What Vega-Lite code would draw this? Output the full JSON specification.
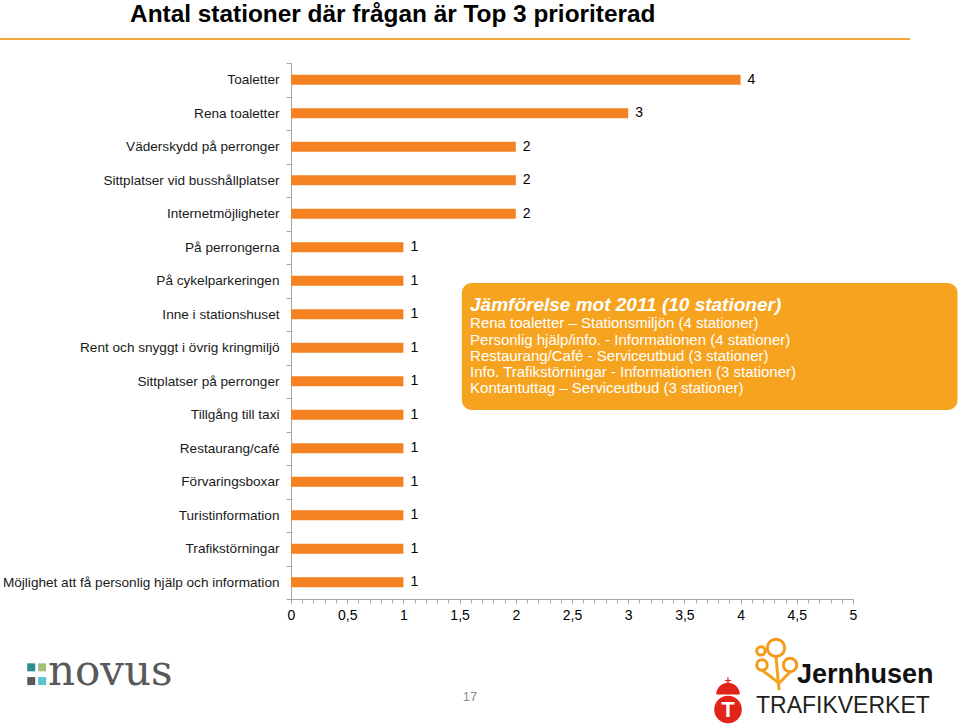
{
  "$schema": "https://vega.github.io/schema/vega-lite/v6.json",
  "width": 562,
  "height": 536,
  "autosize": {"type": "none"},
  "padding": {"left": 291, "top": 63, "right": 107, "bottom": 125},
  "background": "#ffffff",
  "config": {"view": {"stroke": null}, "font": "Liberation Sans"},
  "datasets": {
    "bars": [
      {"cat": "Toaletter", "v": 4},
      {"cat": "Rena toaletter", "v": 3},
      {"cat": "Väderskydd på perronger", "v": 2},
      {"cat": "Sittplatser vid busshållplatser", "v": 2},
      {"cat": "Internetmöjligheter", "v": 2},
      {"cat": "På perrongerna", "v": 1},
      {"cat": "På cykelparkeringen", "v": 1},
      {"cat": "Inne i stationshuset", "v": 1},
      {"cat": "Rent och snyggt i övrig kringmiljö", "v": 1},
      {"cat": "Sittplatser på perronger", "v": 1},
      {"cat": "Tillgång till taxi", "v": 1},
      {"cat": "Restaurang/café", "v": 1},
      {"cat": "Förvaringsboxar", "v": 1},
      {"cat": "Turistinformation", "v": 1},
      {"cat": "Trafikstörningar", "v": 1},
      {"cat": "Möjlighet att få personlig hjälp och information", "v": 1}
    ],
    "box": [{"x": 1.52, "x2": 5.93, "r": 6.57, "r2": 10.36}],
    "head": [{"x": 1.593, "r": 7.22, "t": "Jämförelse mot 2011 (10 stationer)"}],
    "body": [
      {"x": 1.593, "r": 7.76, "t": "Rena toaletter – Stationsmiljön (4 stationer)"},
      {"x": 1.593, "r": 8.26, "t": "Personlig hjälp/info. - Informationen (4 stationer)"},
      {"x": 1.593, "r": 8.74, "t": "Restaurang/Café - Serviceutbud (3 stationer)"},
      {"x": 1.593, "r": 9.22, "t": "Info. Trafikstörningar - Informationen (3 stationer)"},
      {"x": 1.593, "r": 9.69, "t": "Kontantuttag – Serviceutbud (3  stationer)"}
    ],
    "title": [{"x": -1.432, "r": -1.43, "t": "Antal stationer där frågan är Top 3 prioriterad"}],
    "line": [{"x": -2.589, "x2": 5.507, "r": -0.716}],
    "novusSq": [
      {"x": -2.311, "r": 18.04, "c": "#2B8C91"},
      {"x": -2.214, "r": 18.04, "c": "#A3BE77"},
      {"x": -2.311, "r": 18.45, "c": "#58595B"},
      {"x": -2.214, "r": 18.45, "c": "#5BC2CF"}
    ],
    "novus": [{"x": -2.162, "r": 18.57, "t": "novus"}],
    "page": [{"x": 1.593, "r": 18.93, "t": "17"}],
    "jhText": [{"x": 4.502, "r": 18.51, "t": "Jernhusen"}],
    "jhRings": [
      {"x": 4.315, "r": 17.46, "s": 300},
      {"x": 4.181, "r": 17.55, "s": 70},
      {"x": 4.19, "r": 17.97, "s": 110},
      {"x": 4.44, "r": 17.97, "s": 180}
    ],
    "jhStems": [
      {"x": 4.315, "x2": 4.342, "r": 17.73, "r2": 18.72},
      {"x": 4.19, "x2": 4.342, "r": 18.12, "r2": 18.51},
      {"x": 4.44, "x2": 4.342, "r": 18.18, "r2": 18.51}
    ],
    "tvText": [{"x": 4.137, "r": 19.4, "t": "TRAFIKVERKET"}],
    "tvShield": [{"x": 3.888, "r": 19.3}],
    "tvDome": [{"x": 3.888, "r": 18.85}],
    "tvT": [{"x": 3.888, "r": 19.32, "t": "T"}],
    "tvCross": [{"x": 3.888, "r": 18.45, "t": "+"}]
  },
  "layer": [
    {
      "data": {"name": "line"},
      "mark": {"type": "rule", "color": "#F2A93B", "strokeWidth": 2, "clip": false},
      "encoding": {
        "x": {"field": "x", "type": "quantitative", "scale": {"domain": [0, 5], "nice": false}, "axis": null},
        "x2": {"field": "x2"},
        "y": {"field": "r", "type": "quantitative", "scale": {"domain": [0, 16], "reverse": true, "nice": false, "zero": false}, "axis": null}
      }
    },
    {
      "data": {"name": "title"},
      "mark": {"type": "text", "align": "left", "baseline": "middle", "fontSize": 24.4, "fontWeight": "bold", "color": "#000000", "clip": false},
      "encoding": {
        "x": {"field": "x", "type": "quantitative", "scale": {"domain": [0, 5], "nice": false}, "axis": null},
        "y": {"field": "r", "type": "quantitative", "scale": {"domain": [0, 16], "reverse": true, "nice": false, "zero": false}, "axis": null},
        "text": {"field": "t"}
      }
    },
    {
      "data": {"name": "bars"},
      "mark": {"type": "bar", "size": 10, "color": "#F58220"},
      "encoding": {
        "y": {
          "field": "cat", "type": "nominal", "sort": null,
          "scale": {"paddingInner": 0, "paddingOuter": 0},
          "axis": {"title": null, "labelFontSize": 13.6, "labelColor": "#1a1a1a", "labelLimit": 400, "labelPadding": 7, "tickBand": "extent", "tickSize": 5, "tickColor": "#A6A6A6", "domainColor": "#A6A6A6", "grid": false}
        },
        "x": {
          "field": "v", "type": "quantitative",
          "scale": {"domain": [0, 5], "nice": false},
          "axis": {"title": null, "orient": "bottom", "values": [0, 0.5, 1, 1.5, 2, 2.5, 3, 3.5, 4, 4.5, 5], "labelExpr": "replace(format(datum.value, '~g'), '.', ',')", "labelFontSize": 14, "labelColor": "#000000", "tickSize": 5, "tickColor": "#A6A6A6", "domainColor": "#A6A6A6", "grid": false, "labelPadding": 4, "labelFlush": false, "labelOverlap": false}
        }
      }
    },
    {
      "data": {"name": "bars"},
      "mark": {"type": "text", "align": "left", "baseline": "middle", "dx": 7, "fontSize": 14, "color": "#000000"},
      "encoding": {
        "y": {"field": "cat", "type": "nominal", "sort": null, "scale": {"paddingInner": 0, "paddingOuter": 0}, "axis": null},
        "x": {
          "field": "v", "type": "quantitative",
          "scale": {"domain": [0, 5], "nice": false},
          "axis": {"title": null, "orient": "bottom", "values": [0,0.1,0.2,0.3,0.4,0.5,0.6,0.7,0.8,0.9,1,1.1,1.2,1.3,1.4,1.5,1.6,1.7,1.8,1.9,2,2.1,2.2,2.3,2.4,2.5,2.6,2.7,2.8,2.9,3,3.1,3.2,3.3,3.4,3.5,3.6,3.7,3.8,3.9,4,4.1,4.2,4.3,4.4,4.5,4.6,4.7,4.8,4.9,5], "labels": false, "domain": false, "tickSize": 4, "tickColor": "#A6A6A6", "grid": false}
        },
        "text": {"field": "v"}
      }
    },
    {
      "data": {"name": "box"},
      "mark": {"type": "rect", "cornerRadius": 10, "color": "#F6A420", "clip": false},
      "encoding": {
        "x": {"field": "x", "type": "quantitative", "scale": {"domain": [0, 5], "nice": false}, "axis": null},
        "x2": {"field": "x2"},
        "y": {"field": "r", "type": "quantitative", "scale": {"domain": [0, 16], "reverse": true, "nice": false, "zero": false}, "axis": null},
        "y2": {"field": "r2"}
      }
    },
    {
      "data": {"name": "head"},
      "mark": {"type": "text", "align": "left", "baseline": "middle", "fontSize": 19, "fontWeight": "bold", "fontStyle": "italic", "color": "#ffffff", "clip": false},
      "encoding": {
        "x": {"field": "x", "type": "quantitative", "scale": {"domain": [0, 5], "nice": false}, "axis": null},
        "y": {"field": "r", "type": "quantitative", "scale": {"domain": [0, 16], "reverse": true, "nice": false, "zero": false}, "axis": null},
        "text": {"field": "t"}
      }
    },
    {
      "data": {"name": "body"},
      "mark": {"type": "text", "align": "left", "baseline": "middle", "fontSize": 15, "color": "#ffffff", "clip": false},
      "encoding": {
        "x": {"field": "x", "type": "quantitative", "scale": {"domain": [0, 5], "nice": false}, "axis": null},
        "y": {"field": "r", "type": "quantitative", "scale": {"domain": [0, 16], "reverse": true, "nice": false, "zero": false}, "axis": null},
        "text": {"field": "t"}
      }
    },
    {
      "data": {"name": "novusSq"},
      "mark": {"type": "point", "shape": "square", "filled": true, "opacity": 1, "size": 64, "clip": false},
      "encoding": {
        "x": {"field": "x", "type": "quantitative", "scale": {"domain": [0, 5], "nice": false}, "axis": null},
        "y": {"field": "r", "type": "quantitative", "scale": {"domain": [0, 16], "reverse": true, "nice": false, "zero": false}, "axis": null},
        "color": {"field": "c", "type": "nominal", "scale": null, "legend": null}
      }
    },
    {
      "data": {"name": "novus"},
      "mark": {"type": "text", "align": "left", "baseline": "alphabetic", "font": "DejaVu Serif", "fontSize": 42, "color": "#58595B", "clip": false},
      "encoding": {
        "x": {"field": "x", "type": "quantitative", "scale": {"domain": [0, 5], "nice": false}, "axis": null},
        "y": {"field": "r", "type": "quantitative", "scale": {"domain": [0, 16], "reverse": true, "nice": false, "zero": false}, "axis": null},
        "text": {"field": "t"}
      }
    },
    {
      "data": {"name": "page"},
      "mark": {"type": "text", "align": "center", "baseline": "middle", "fontSize": 13, "color": "#8C8C8C", "clip": false},
      "encoding": {
        "x": {"field": "x", "type": "quantitative", "scale": {"domain": [0, 5], "nice": false}, "axis": null},
        "y": {"field": "r", "type": "quantitative", "scale": {"domain": [0, 16], "reverse": true, "nice": false, "zero": false}, "axis": null},
        "text": {"field": "t"}
      }
    },
    {
      "data": {"name": "jhStems"},
      "mark": {"type": "rule", "color": "#F4A21E", "strokeWidth": 3, "clip": false},
      "encoding": {
        "x": {"field": "x", "type": "quantitative", "scale": {"domain": [0, 5], "nice": false}, "axis": null},
        "x2": {"field": "x2"},
        "y": {"field": "r", "type": "quantitative", "scale": {"domain": [0, 16], "reverse": true, "nice": false, "zero": false}, "axis": null},
        "y2": {"field": "r2"}
      }
    },
    {
      "data": {"name": "jhRings"},
      "mark": {"type": "point", "shape": "circle", "filled": false, "stroke": "#F39A1A", "strokeWidth": 3, "opacity": 1, "clip": false},
      "encoding": {
        "x": {"field": "x", "type": "quantitative", "scale": {"domain": [0, 5], "nice": false}, "axis": null},
        "y": {"field": "r", "type": "quantitative", "scale": {"domain": [0, 16], "reverse": true, "nice": false, "zero": false}, "axis": null},
        "size": {"field": "s", "type": "quantitative", "scale": null, "legend": null}
      }
    },
    {
      "data": {"name": "jhText"},
      "mark": {"type": "text", "align": "left", "baseline": "alphabetic", "fontSize": 27, "fontWeight": "bold", "color": "#111111", "clip": false},
      "encoding": {
        "x": {"field": "x", "type": "quantitative", "scale": {"domain": [0, 5], "nice": false}, "axis": null},
        "y": {"field": "r", "type": "quantitative", "scale": {"domain": [0, 16], "reverse": true, "nice": false, "zero": false}, "axis": null},
        "text": {"field": "t"}
      }
    },
    {
      "data": {"name": "tvDome"},
      "mark": {"type": "point", "shape": "M-1,0A1,1 0 0 1 1,0Z", "filled": true, "color": "#E2231A", "opacity": 1, "size": 560, "clip": false},
      "encoding": {
        "x": {"field": "x", "type": "quantitative", "scale": {"domain": [0, 5], "nice": false}, "axis": null},
        "y": {"field": "r", "type": "quantitative", "scale": {"domain": [0, 16], "reverse": true, "nice": false, "zero": false}, "axis": null}
      }
    },
    {
      "data": {"name": "tvShield"},
      "mark": {"type": "point", "shape": "circle", "filled": true, "color": "#E2231A", "opacity": 1, "size": 760, "clip": false},
      "encoding": {
        "x": {"field": "x", "type": "quantitative", "scale": {"domain": [0, 5], "nice": false}, "axis": null},
        "y": {"field": "r", "type": "quantitative", "scale": {"domain": [0, 16], "reverse": true, "nice": false, "zero": false}, "axis": null}
      }
    },
    {
      "data": {"name": "tvT"},
      "mark": {"type": "text", "align": "center", "baseline": "middle", "fontSize": 22, "fontWeight": "bold", "color": "#ffffff", "clip": false},
      "encoding": {
        "x": {"field": "x", "type": "quantitative", "scale": {"domain": [0, 5], "nice": false}, "axis": null},
        "y": {"field": "r", "type": "quantitative", "scale": {"domain": [0, 16], "reverse": true, "nice": false, "zero": false}, "axis": null},
        "text": {"field": "t"}
      }
    },
    {
      "data": {"name": "tvCross"},
      "mark": {"type": "text", "align": "center", "baseline": "middle", "fontSize": 11, "fontWeight": "bold", "color": "#E2231A", "clip": false},
      "encoding": {
        "x": {"field": "x", "type": "quantitative", "scale": {"domain": [0, 5], "nice": false}, "axis": null},
        "y": {"field": "r", "type": "quantitative", "scale": {"domain": [0, 16], "reverse": true, "nice": false, "zero": false}, "axis": null},
        "text": {"field": "t"}
      }
    },
    {
      "data": {"name": "tvText"},
      "mark": {"type": "text", "align": "left", "baseline": "alphabetic", "fontSize": 23, "color": "#231F20", "clip": false},
      "encoding": {
        "x": {"field": "x", "type": "quantitative", "scale": {"domain": [0, 5], "nice": false}, "axis": null},
        "y": {"field": "r", "type": "quantitative", "scale": {"domain": [0, 16], "reverse": true, "nice": false, "zero": false}, "axis": null},
        "text": {"field": "t"}
      }
    }
  ],
  "resolve": {"scale": {"y": "independent"}, "axis": {"x": "independent", "y": "independent"}}
}
